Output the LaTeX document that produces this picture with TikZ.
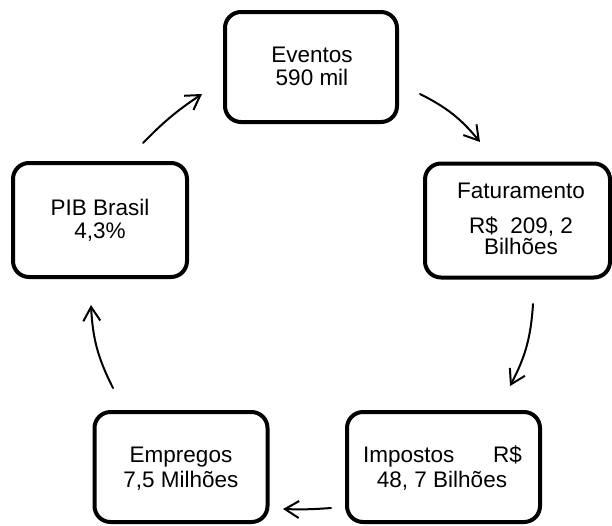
\documentclass[tikz,border=0pt]{standalone}
\usepackage{fontspec}
\setmainfont{Liberation Sans}
\usetikzlibrary{arrows.meta}
\begin{document}
\begin{tikzpicture}[x=1pt,y=-1pt,
  stage/.style={draw, line width=4pt, rounded corners=16pt, inner sep=0pt},
  label/.style={font=\fontsize{22.5}{23}\selectfont, inner sep=0pt},
  flow/.style={line width=2pt, line cap=round,
    -{Straight Barb[length=14pt,width=17pt,line width=2pt]}}]
  \useasboundingbox (0,0) rectangle (612,525);

  % rounded boxes of the cycle
  \node[stage, minimum width=172pt, minimum height=110pt] (ev) at (311,67) {};
  \node[stage, minimum width=185pt, minimum height=114pt] (fat) at (517.5,220.5) {};
  \node[stage, minimum width=193pt, minimum height=110pt] (imp) at (443.5,467) {};
  \node[stage, minimum width=173pt, minimum height=110pt] (emp) at (181,467) {};
  \node[stage, minimum width=174pt, minimum height=114pt] (pib) at (100,220) {};

  % texts inside the boxes, one node per line
  \node[label, anchor=base] (evA) at (312,62) {Eventos};
  \node[label, anchor=base] (evB) at (312,85) {590 mil};
  \node[label, anchor=base] (fatA) at (521,198) {Faturamento};
  \node[label, anchor=base, text depth=0pt] (fatB) at (521,233) {R\$\ \ 209, 2};
  \node[label, anchor=base, text height=15pt] (fatC) at (521,254) {Bilhões};
  \node[label, anchor=base west] (impA) at (363,462) {Impostos};
  \node[label, anchor=base east] (impB) at (522,462) {R\$};
  \node[label, anchor=base] (impC) at (442,487) {48, 7 Bilhões};
  \node[label, anchor=base] (empA) at (181,462) {Empregos};
  \node[label, anchor=base] (empB) at (181,487) {7,5 Milhões};
  \node[label, anchor=base] (pibA) at (100,215) {PIB Brasil};
  \node[label, anchor=base] (pibB) at (100,238) {4,3\%};

  % arrows between the boxes
  \coordinate (a1) at (420,94);  \coordinate (b1) at (480,142);
  \coordinate (a2) at (533,304); \coordinate (b2) at (510,386);
  \coordinate (a3) at (331,508); \coordinate (b3) at (283,509);
  \coordinate (a4) at (113,388); \coordinate (b4) at (91,305);
  \coordinate (a5) at (143,143); \coordinate (b5) at (202,94);
  \draw[flow] (a1) to[bend left=12] (b1);
  \draw[flow] (a2) to[bend left=12] (b2);
  \draw[flow] (a3) to[bend left=3] (b3);
  \draw[flow] (a4) to[bend left=12] (b4);
  \draw[flow] (a5) to[bend left=6] (b5);
\end{tikzpicture}
\end{document}
